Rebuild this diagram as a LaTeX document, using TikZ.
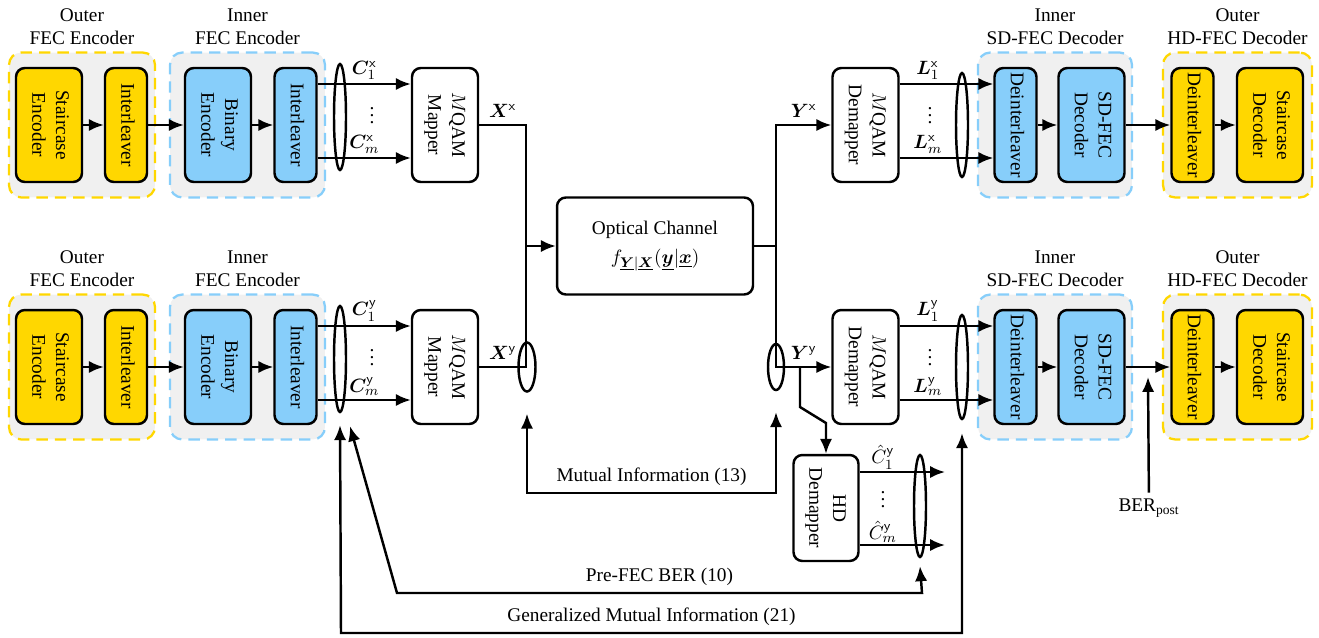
\documentclass[tikz,border=0pt]{standalone}
\usepackage{amsmath}
\usepackage{fontspec}
\setmainfont{Liberation Serif}
\usepackage{bm}
\usepackage{graphicx}
\usetikzlibrary{arrows.meta,shapes.geometric,calc}

\definecolor{fecyellow}{RGB}{255,215,0}
\definecolor{fecblue}{RGB}{135,206,250}
\definecolor{grpgray}{RGB}{240,240,240}

\newcommand{\sidetext}[1]{\rotatebox{-90}{\begin{tabular}{@{}c@{}}#1\end{tabular}}}

\tikzset{
  blk/.style={draw,line width=1.4pt,rounded corners=5pt,inner sep=0pt,minimum height=2.28cm},
  wideblk/.style={blk,minimum width=1.32cm},
  slimblk/.style={blk,minimum width=0.84cm},
  grp/.style={fill=grpgray,line width=1.3pt,dash pattern=on 6.5pt off 4pt,rounded corners=7pt,minimum height=2.9cm},
  arr/.style={-{Latex[length=8.5pt,width=7pt]},line width=1.4pt},
  darr/.style={{Latex[length=8.5pt,width=7pt]}-{Latex[length=8.5pt,width=7pt]},line width=1.4pt},
  bundle/.style={ellipse,draw,line width=1.4pt,inner sep=0pt,minimum width=0.24cm},
}

\begin{document}
\begin{tikzpicture}
  [x=0.02cm,y=-0.02cm,every node/.style={font=\fontsize{11}{13.5}\selectfont}]
  \useasboundingbox (0,0) rectangle (1319,637);

% both polarizations
\foreach \p/\yy in {x/125,y/367} {
  % groups
  \node[grp,draw=fecyellow,minimum width=2.92cm,label={[align=center]above:Outer\\FEC Encoder}] (og\p) at (82,\yy) {};
  \node[grp,draw=fecblue,minimum width=3.1cm,label={[align=center]above:Inner\\FEC Encoder}] (ig\p) at (247.5,\yy) {};
  \node[grp,draw=fecblue,minimum width=3.08cm,label={[align=center]above:Inner\\SD-FEC Decoder}] (idg\p) at (1055,\yy) {};
  \node[grp,draw=fecyellow,minimum width=2.98cm,label={[align=center]above:Outer\\HD-FEC Decoder}] (odg\p) at (1237.5,\yy) {};
  % blocks
  \node[wideblk,fill=fecyellow] (se\p) at (49,\yy) {\sidetext{Staircase\\Encoder}};
  \node[slimblk,fill=fecyellow] (ie\p) at (126,\yy) {\sidetext{Interleaver}};
  \node[wideblk,fill=fecblue] (be\p) at (218,\yy) {\sidetext{Binary\\Encoder}};
  \node[slimblk,fill=fecblue] (ib\p) at (295.5,\yy) {\sidetext{Interleaver}};
  \node[wideblk] (map\p) at (445,\yy) {\sidetext{$M$QAM\\Mapper}};
  \node[wideblk] (dem\p) at (865.5,\yy) {\sidetext{$M$QAM\\Demapper}};
  \node[slimblk,fill=fecblue] (di\p) at (1015.5,\yy) {\sidetext{Deinterleaver}};
  \node[wideblk,fill=fecblue] (sd\p) at (1091.5,\yy) {\sidetext{SD-FEC\\Decoder}};
  \node[slimblk,fill=fecyellow] (dy\p) at (1192.5,\yy) {\sidetext{Deinterleaver}};
  \node[wideblk,fill=fecyellow] (sc\p) at (1270,\yy) {\sidetext{Staircase\\Decoder}};
  \draw[arr] (se\p) -- (ie\p);
  \draw[arr] (ie\p) -- (be\p);
  \draw[arr] (be\p) -- (ib\p);
  \draw[arr] (di\p) -- (sd\p);
  \draw[arr] (sd\p) -- (dy\p);
  \draw[arr] (dy\p) -- (sc\p);
  % bit levels
  \draw[arr] ($(ib\p.east)+(0,-41)$) coordinate (c1\p) -- (c1\p -| map\p.west) node[midway,above,inner sep=2pt] {$\bm{C}_1^{\mathsf{\p}}$};
  \draw[arr] ($(ib\p.east)+(0,33)$) coordinate (cm\p) -- (cm\p -| map\p.west) node[midway,above,inner sep=2pt] {$\bm{C}_m^{\mathsf{\p}}$};
  \node (cd\p) at (372,\yy-15) {$\vdots$};
  \node[bundle,minimum height=2.12cm] (eb\p) at (340,\yy-8) {};
  \draw[arr] ($(dem\p.east)+(0,-41)$) coordinate (l1\p) -- (l1\p -| di\p.west) node[pos=0.3,above,inner sep=2pt] {$\bm{L}_1^{\mathsf{\p}}$};
  \draw[arr] ($(dem\p.east)+(0,33)$) coordinate (lm\p) -- (lm\p -| di\p.west) node[pos=0.3,above,inner sep=2pt] {$\bm{L}_m^{\mathsf{\p}}$};
  \node (ld\p) at (930,\yy-15) {$\vdots$};
  \node[bundle,minimum height=2.08cm] (ed\p) at (962,\yy) {};
}

% channel
\node[blk,minimum width=3.92cm,minimum height=1.94cm,align=center] (chan) at (655,246)
  {Optical Channel\\[3pt]$f_{\underline{\bm{Y}}|\underline{\bm{X}}}(\underline{\bm{y}}|\underline{\bm{x}})$};
\coordinate (jin) at (526,246);
\coordinate (jout) at (776,246);
\draw[line width=1.4pt] (mapx.east) -| (jin) node[pos=0.25,above] {$\bm{X}^{\mathsf{x}}$};
\draw[line width=1.4pt] (mapy.east) -| (jin) node[pos=0.25,above] {$\bm{X}^{\mathsf{y}}$};
\draw[arr] (jin) -- (chan);
\draw[line width=1.4pt] (chan) -- (jout);
\draw[arr] (jout) |- (demx) node[pos=0.75,above] {$\bm{Y}^{\mathsf{x}}$};
\draw[arr] (jout) |- (demy) node[pos=0.75,above] {$\bm{Y}^{\mathsf{y}}$};
\node[bundle,minimum width=0.34cm,minimum height=0.98cm] (exy) at (527,367) {};
\node[bundle,minimum width=0.32cm,minimum height=0.92cm] (eyy) at (776,367) {};

% hard decisions
\node[blk,minimum width=1.3cm,minimum height=2.12cm] (hd) at (826,508) {\sidetext{HD\\Demapper}};
\coordinate (br) at (800,367);
\draw[arr] (br) -- (800,407) -- (826,423) -- (hd);
\coordinate (hout) at (945,508);
\draw[arr] ($(hd.east)+(0,-36)$) coordinate (h1) -- (h1 -| hout) node[pos=0.27,above,inner sep=1pt] {$\hat{C}_1^{\mathsf{y}}$};
\draw[arr] ($(hd.east)+(0,37)$) coordinate (hm) -- (hm -| hout) node[pos=0.27,above,inner sep=1pt] {$\hat{C}_m^{\mathsf{y}}$};
\node (hdots) at (883,494) {$\vdots$};
\node[bundle,minimum height=2.04cm] (eh) at (920,506) {};

% metrics
\draw[darr] ([yshift=-0.42cm]exy.south) -- (527,493) -- (776,493)
  node[midway,above] {Mutual Information (13)} -- ([yshift=-0.42cm]eyy.south);
\draw[darr] ([xshift=0.2cm,yshift=-0.26cm]eby.south) -- (397,593) -- (922,593)
  node[midway,above] {Pre-FEC BER (10)} -- ([yshift=-0.16cm]eh.south);
\draw[darr] ([yshift=-0.24cm]eby.south) -- (341,633) -- (962,633)
  node[midway,above] {Generalized Mutual Information (21)} -- ([yshift=-0.26cm]edy.south);
\node (berpost) at (1149,508) {BER\textsubscript{post}};
\coordinate (bp) at ($(sdy.east)!0.5!(dyy.west)+(0,10)$);
\draw[arr] (berpost) -- (bp);

\end{tikzpicture}
\end{document}
